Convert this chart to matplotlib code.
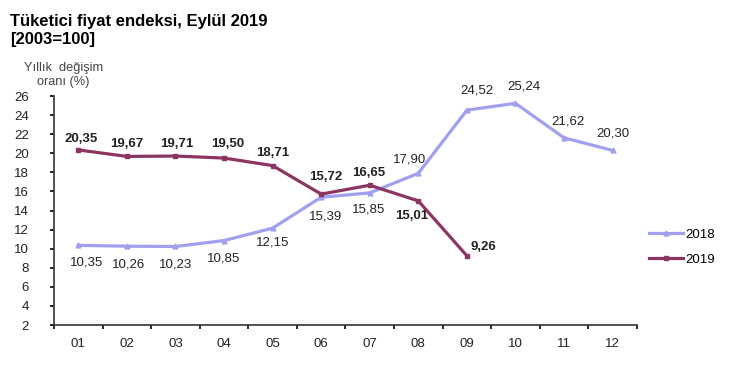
import matplotlib.pyplot as plt

plt.rcParams["font.family"] = ["Liberation Sans", "DejaVu Sans"]

months = ["01", "02", "03", "04", "05", "06", "07", "08", "09", "10", "11", "12"]
y2018 = [10.35, 10.26, 10.23, 10.85, 12.15, 15.39, 15.85, 17.90, 24.52, 25.24, 21.62, 20.30]
y2019 = [20.35, 19.67, 19.71, 19.50, 18.71, 15.72, 16.65, 15.01, 9.26]
lbl2018 = ["10,35", "10,26", "10,23", "10,85", "12,15", "15,39", "15,85", "17,90", "24,52", "25,24", "21,62", "20,30"]
lbl2019 = ["20,35", "19,67", "19,71", "19,50", "18,71", "15,72", "16,65", "15,01", "9,26"]

c18 = "#a0a0ef"
c19 = "#8c3562"

fig = plt.figure(figsize=(7.44, 3.76), dpi=100)
ax = fig.add_axes([0.0726, 0.1356, 0.7834, 0.609])

x18 = list(range(len(y2018)))
x19 = list(range(len(y2019)))
ax.plot(x18, y2018, color=c18, lw=2.3, marker="^", ms=3.5, label="2018")
ax.plot(x19, y2019, color=c19, lw=2.3, marker="s", ms=3.5, label="2019")

# label offsets in points
off18 = [(6, -12), (1, -13), (0, -13), (0, -13), (0, -10), (3, -14), (-1, -12),
         (-6, 10), (7, 14), (6, 12), (3, 12), (0, 12)]
for i, (v, t) in enumerate(zip(y2018, lbl2018)):
    dx, dy = off18[i]
    ax.annotate(t, (i, v), xytext=(dx, dy), textcoords="offset points",
                ha="center", va="center", fontsize=9.5, color="#222222")

off19 = [(2, 8), (0, 9), (1, 9), (3, 10), (0, 9), (3, 12), (-1, 9), (-5, -11), (12, 6)]
for i, (v, t) in enumerate(zip(y2019, lbl2019)):
    dx, dy = off19[i]
    ax.annotate(t, (i, v), xytext=(dx, dy), textcoords="offset points",
                ha="center", va="center", fontsize=9.5, fontweight="bold", color="#222222")

ax.set_xlim(-0.5, 11.5)
ax.set_ylim(2, 26)
ax.set_yticks(range(2, 27, 2))
ax.set_xticks(x18)
ax.set_xticklabels(months)
ax.set_xticks([i - 0.5 for i in range(13)], minor=True)
ax.tick_params(axis="x", which="major", length=0, pad=9, labelsize=9.5, labelcolor="#222222")
ax.tick_params(axis="x", which="minor", length=3, direction="out", width=1.2)
ax.tick_params(axis="y", length=3, direction="out", width=1.2, labelsize=9.5, pad=15,
               labelcolor="#222222")
for s in ["top", "right"]:
    ax.spines[s].set_visible(False)
for s in ["left", "bottom"]:
    ax.spines[s].set_linewidth(1.2)
    ax.spines[s].set_color("#333333")

ax.legend(loc="center left", bbox_to_anchor=(1.0, 0.34), frameon=False, fontsize=9.5,
          handlelength=2.6, handletextpad=0.2, labelspacing=0.95)

fig.text(0.013, 0.944, "Tüketici fiyat endeksi, Eylül 2019", fontsize=12, fontweight="bold", va="center")
fig.text(0.013, 0.894, "[2003=100]", fontsize=12, fontweight="bold", va="center")
fig.text(0.085, 0.8, "Yıllık  değişim\noranı (%)", fontsize=9.2, color="#444444",
         ha="center", va="center", linespacing=1.25)

fig.savefig("out.png", dpi=100)
